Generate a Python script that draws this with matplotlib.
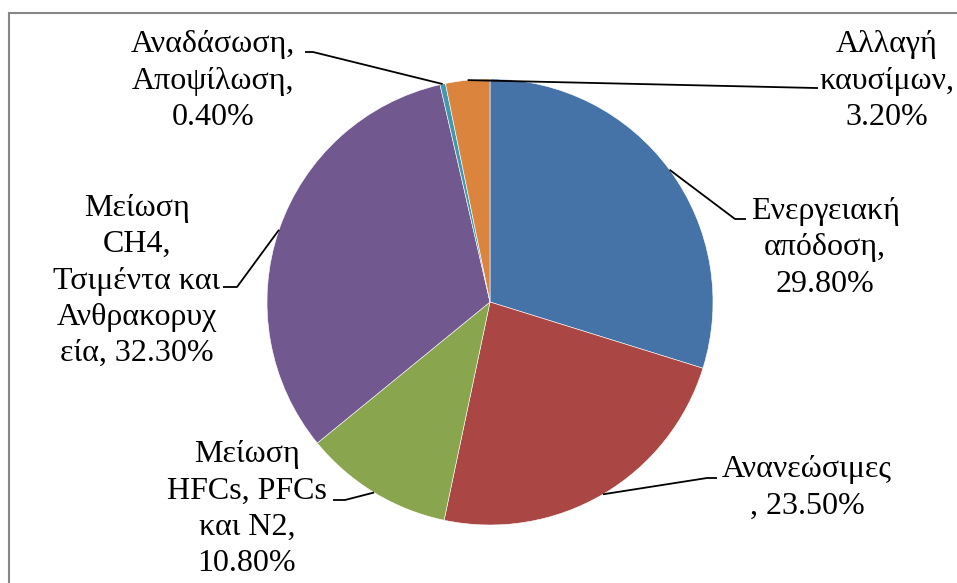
import matplotlib
matplotlib.use("Agg")
import matplotlib.pyplot as plt
import numpy as np

labels = ["Ενεργειακή\nαπόδοση,\n29.80%",
          "Ανανεώσιμες\n, 23.50%",
          "Μείωση\nHFCs, PFCs\nκαι N2,\n10.80%",
          "Μείωση\nCH4,\nΤσιμέντα και\nΑνθρακορυχ\nεία, 32.30%",
          "Αναδάσωση,\nΑποψίλωση,\n0.40%",
          "Αλλαγή\nκαυσίμων,\n3.20%"]
values = [29.8, 23.5, 10.8, 32.3, 0.4, 3.2]
colors = ["#4572A7", "#AA4643", "#89A54E", "#71588F", "#4198AF", "#DB843D"]

W, H = 957, 583
fig = plt.figure(figsize=(W / 100, H / 100), dpi=100)
ax = fig.add_axes([0, 0, 1, 1])

cx, cy_px, R = 490, 302, 223
cy = H - cy_px
ax.pie(values, colors=colors, startangle=90, counterclock=False,
       center=(cx, cy), radius=R, frame=True,
       wedgeprops=dict(linewidth=0.4, edgecolor="white"))
ax.set_xlim(0, W)
ax.set_ylim(0, H)
ax.set_aspect("auto")
ax.set_axis_off()

# frame
ax.plot([8.5, 8.5, W], [0, H - 12.5, H - 12.5], color="#868686", lw=1.5,
        solid_joinstyle="miter", clip_on=False)

# label positions (pixel coords: center x, center y) and leader elbow
label_pos = [(825, 248), (807, 488), (247, 509), (137, 281), (213, 81), (887, 81)]
elbows = [((735, 219), (746, 219)),
          ((707, 478), (717, 478)),
          ((345, 500), (333, 500)),
          ((237, 287), (223, 287)),
          ((313, 52), (305, 52)),
          ((816, 88), (818, 88))]

fracs = np.array(values) / sum(values)
cum = np.cumsum(fracs) - fracs / 2
for i, lab in enumerate(labels):
    ang = np.deg2rad(cum[i] * 360)
    ex = cx + R * np.sin(ang)
    ey = cy + R * np.cos(ang)
    (x1, y1), (x2, y2) = elbows[i]
    ax.plot([ex, x1, x2], [ey, H - y1, H - y2], color="black", lw=1.3,
            solid_capstyle="butt")
    lx, ly = label_pos[i]
    ax.text(lx, H - ly, lab, ha="center", va="center", multialignment="center",
            fontsize=23, family="Liberation Serif", linespacing=1.33)

fig.savefig("out.png", dpi=100)
